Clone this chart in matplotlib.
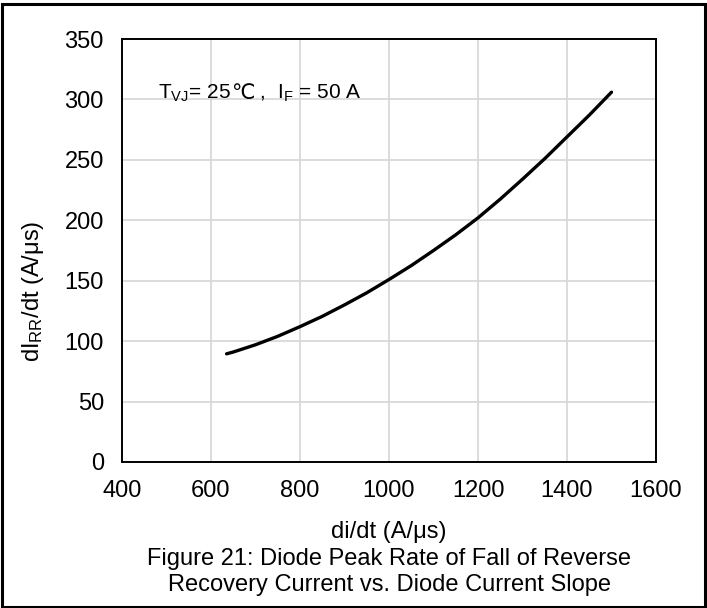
import matplotlib
matplotlib.use("Agg")
import matplotlib.pyplot as plt
from matplotlib.patches import Rectangle
from matplotlib.offsetbox import TextArea, HPacker, AnnotationBbox

# data
di_dt = [635, 650, 700, 750, 800, 850, 900, 950, 1000, 1050, 1100,
         1150, 1200, 1250, 1300, 1350, 1400, 1450, 1500]
di_rr_dt = [89.5, 91, 97, 104, 112, 120.5, 130, 140, 151, 162.5, 175,
            188, 202, 217.5, 234, 251, 269, 287, 306]

x_ticks = [400, 600, 800, 1000, 1200, 1400, 1600]
y_ticks = [0, 50, 100, 150, 200, 250, 300, 350]

plt.rcParams["font.family"] = ["Liberation Sans", "DejaVu Sans"]
plt.rcParams["mathtext.fontset"] = "custom"
plt.rcParams["mathtext.rm"] = "Liberation Sans"
plt.rcParams["mathtext.it"] = "Liberation Sans"
plt.rcParams["mathtext.default"] = "rm"

W, H = 707, 608
fig = plt.figure(figsize=(W / 100, H / 100), dpi=100)
ax = fig.add_axes([122 / W, 1 - 462 / H, (656 - 122) / W, (462 - 39) / H])

# curve
ax.plot(di_dt, di_rr_dt, color="black", lw=2.4, solid_capstyle="round")

ax.set_xlim(400, 1600)
ax.set_ylim(0, 350)
ax.set_xticks(x_ticks)
ax.set_yticks(y_ticks)
ax.tick_params(length=0, labelsize=17, pad=13)
ax.grid(True, color="#d9d9d9", lw=1.3)
ax.set_axisbelow(True)
for s in ax.spines.values():
    s.set_linewidth(1.4)
    s.set_color("black")

# condition text, split so the degree sign comes from a font that has it
tp = dict(fontsize=15, color="black")
parts = [
    TextArea("T$_{VJ}$= 25", textprops=tp),
    TextArea("\u2103", textprops=dict(fontsize=15, family=["DejaVu Sans"])),
    TextArea(" ,  I$_F$ = 50 A", textprops=tp),
]
box = HPacker(children=parts, align="baseline", pad=0, sep=0)
ab = AnnotationBbox(box, (481, 305), xycoords="data", box_alignment=(0, 0.5),
                    frameon=False, pad=0)
ax.add_artist(ab)

# labels
fig.text(33 / W, 1 - 291 / H, "dI$_{RR}$/dt (A/\u03bcs)", rotation=90, fontsize=17,
         ha="center", va="center")
fig.text(389 / W, 1 - 532 / H, "di/dt (A/\u03bcs)", fontsize=17, ha="center", va="center")
fig.text(389 / W, 1 - 572 / H,
         "Figure 21: Diode Peak Rate of Fall of Reverse\nRecovery Current vs. Diode Current Slope",
         fontsize=17, ha="center", va="center", linespacing=1.25)

# frame around the whole figure
fig.patches.append(Rectangle((1.5 / W, 1.5 / H), (W - 4) / W, (H - 5.5) / H,
                             transform=fig.transFigure, fill=False, edgecolor="black", lw=2.2))

fig.savefig("out.png", dpi=100)
